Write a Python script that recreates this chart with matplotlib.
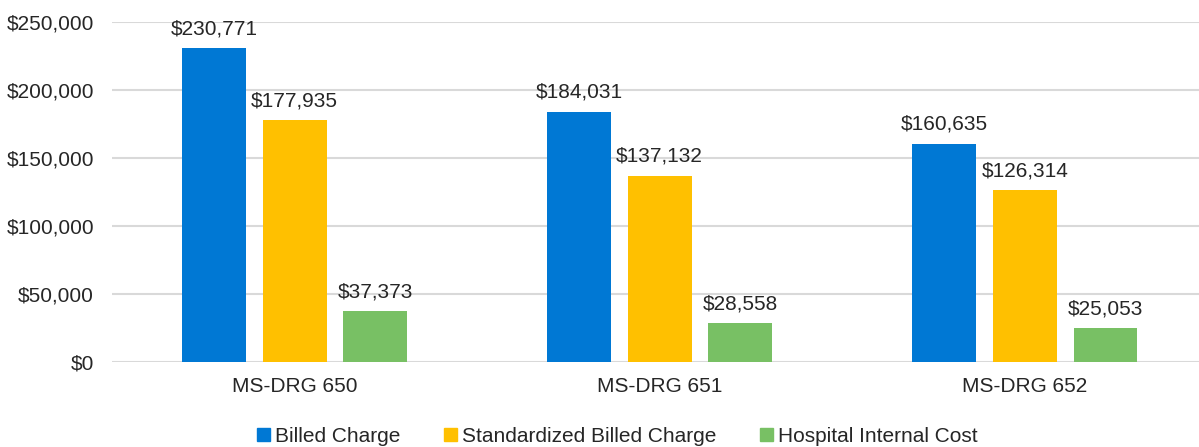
import matplotlib.pyplot as plt
from matplotlib.patches import Patch
from matplotlib.ticker import FuncFormatter
import numpy as np

plt.rcParams['font.family'] = ['Liberation Sans', 'DejaVu Sans']

groups = ["MS-DRG 650", "MS-DRG 651", "MS-DRG 652"]
series = ["Billed Charge", "Standardized Billed Charge", "Hospital Internal Cost"]
billed = [230771, 184031, 160635]
standardized = [177935, 137132, 126314]
internal = [37373, 28558, 25053]
colors = ["#0078D4", "#FFC000", "#78C064"]

fig = plt.figure(figsize=(11.99, 4.47), dpi=100)
ax = fig.add_axes([112/1199, 85/447, (1199-112)/1199, 340/447])

x = np.arange(len(groups))
w = 0.175
offsets = [-0.221, 0, 0.221]
for vals, off, col in zip([billed, standardized, internal], offsets, colors):
    bars = ax.bar(x + off, vals, width=w, color=col, zorder=3)
    for b, v in zip(bars, vals):
        ax.annotate("${:,}".format(v), (b.get_x() + b.get_width()/2, v),
                    xytext=(0, 7), textcoords="offset points",
                    ha="center", va="bottom", fontsize=15, color="#262626")

ax.set_ylim(0, 250000)
ax.set_xlim(-0.5, 2.477)
ax.set_yticks(range(0, 250001, 50000))
ax.yaxis.set_major_formatter(FuncFormatter(lambda v, p: "${:,.0f}".format(v)))
ax.set_xticks(x)
ax.set_xticklabels(groups)
ax.tick_params(axis="both", length=0, labelsize=15, colors="#262626")
ax.tick_params(axis="y", pad=13)
ax.tick_params(axis="x", pad=11)
ax.grid(axis="y", color="#d9d9d9", linewidth=1.5, zorder=0)
for s in ax.spines.values():
    s.set_visible(False)

handles = [Patch(color=c, label=s) for c, s in zip(colors, series)]
fig.legend(handles=handles, loc="lower center", bbox_to_anchor=(0.515, -0.04),
           ncol=3, frameon=False, fontsize=15, handlelength=0.6, handleheight=0.6,
           handletextpad=0.25, columnspacing=2.1, labelcolor="#262626")

fig.savefig("out.png", dpi=100)
